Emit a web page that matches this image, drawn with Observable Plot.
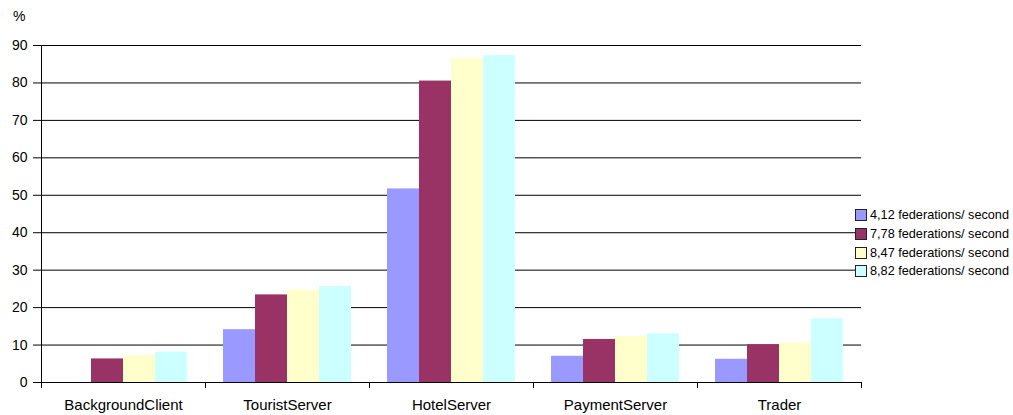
<!DOCTYPE html>
<html>
<head>
<meta charset="utf-8">
<script src="https://cdn.jsdelivr.net/npm/d3@7"></script>
<script src="https://cdn.jsdelivr.net/npm/@observablehq/plot@0.6"></script>
<style>
  html, body { margin: 0; padding: 0; background: #fff; }
  #wrap { position: relative; width: 1013px; height: 415px; overflow: hidden; font-family: "Liberation Sans", Arial, sans-serif; }
  #pct { position: absolute; left: 13px; top: 8px; font-size: 14px; color: #000; }
  #legend { position: absolute; left: 855px; top: 206px; font-size: 12.7px; color: #000; }
  .row { display: flex; align-items: center; height: 18.7px; white-space: nowrap; }
  .sw { width: 10px; height: 10px; border: 1px solid #222; margin-right: 3px; flex: none; }
  g[aria-label^="fx-axis"] text { font-size: 15px; }
</style>
</head>
<body>
<div id="wrap">
  <div id="chart"></div>
  <div id="pct">%</div>
  <div id="legend"></div>
</div>
<script>
const categories = ["BackgroundClient", "TouristServer", "HotelServer", "PaymentServer", "Trader"];
const series = ["4,12 federations/ second", "7,78 federations/ second", "8,47 federations/ second", "8,82 federations/ second"];
const colors = ["#9999FF", "#993366", "#FFFFCC", "#CCFFFF"];
// values per series, in category order
const s412 = [0, 14.1, 51.7, 7.0, 6.2];
const s778 = [6.3, 23.4, 80.5, 11.5, 10.1];
const s847 = [7.2, 24.6, 86.5, 12.3, 10.5];
const s882 = [8.1, 25.6, 87.3, 13.0, 17.0];
const yTicks = [0, 10, 20, 30, 40, 50, 60, 70, 80, 90];

const seriesValues = [s412, s778, s847, s882];
const data = [];
categories.forEach((c, i) => {
  series.forEach((s, j) => {
    data.push({cat: c, series: s, value: seriesValues[j][i]});
  });
});

const chart = Plot.plot({
  width: 1013,
  height: 415,
  marginLeft: 40,
  marginRight: 151,
  marginTop: 45,
  marginBottom: 33,
  style: {fontFamily: "'Liberation Sans', Arial, sans-serif", fontSize: "14px", background: "transparent", color: "#000"},
  fx: {domain: categories, padding: 0, label: null, tickSize: 0, tickPadding: 17, axis: "bottom"},
  x: {domain: series, paddingInner: 0, paddingOuter: 0.49, axis: null},
  y: {domain: [0, 90], ticks: yTicks, tickSize: 8, tickPadding: 6, label: null},
  color: {domain: series, range: colors},
  marks: [
    Plot.ruleY(yTicks.filter(d => d > 0), {stroke: "#000", strokeWidth: 1}),
    Plot.barY(data, {fx: "cat", x: "series", y: "value", fill: "series"}),
    Plot.ruleY([0], {stroke: "#000", strokeWidth: 1})
  ]
});

// y-axis line and category boundary ticks, derived from the scales
const fx = chart.scale("fx");
const y = chart.scale("y");
const svg = d3.select(chart);
const x0 = fx.apply(categories[0]);
const yBase = y.apply(0);
const yTop = y.apply(90);
svg.append("line").attr("x1", x0 + 0.5).attr("x2", x0 + 0.5).attr("y1", yTop).attr("y2", yBase + 6).attr("stroke", "#000");
const bounds = categories.map(c => fx.apply(c)).concat([fx.apply(categories[categories.length - 1]) + fx.bandwidth]);
bounds.forEach(b => {
  svg.append("line").attr("x1", b + 0.5).attr("x2", b + 0.5).attr("y1", yBase).attr("y2", yBase + 6).attr("stroke", "#000");
});

document.getElementById("chart").appendChild(chart);

const legend = document.getElementById("legend");
series.forEach((s, i) => {
  const row = document.createElement("div");
  row.className = "row";
  const sw = document.createElement("div");
  sw.className = "sw";
  sw.style.background = colors[i];
  const t = document.createElement("span");
  t.textContent = s;
  row.appendChild(sw);
  row.appendChild(t);
  legend.appendChild(row);
});
</script>
</body>
</html>
